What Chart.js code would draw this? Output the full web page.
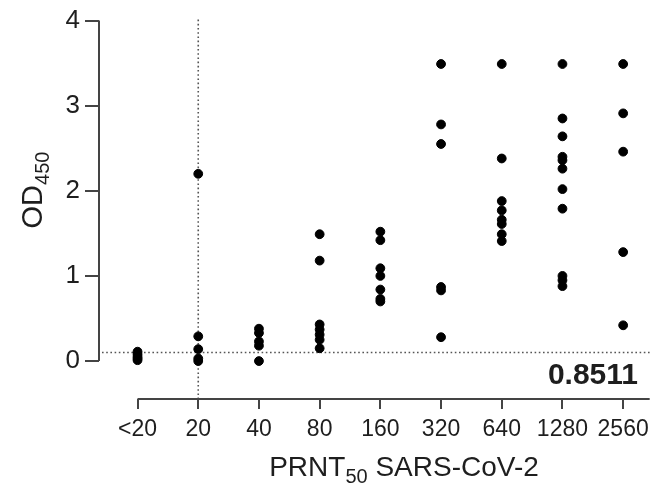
<!DOCTYPE html>
<html>
<head>
<meta charset="utf-8">
<script src="https://cdn.jsdelivr.net/npm/chart.js@4.4.0/dist/chart.umd.min.js"></script>
<style>
    html, body { margin: 0; padding: 0; background: #fff; }
</style>
</head>
<body>
<canvas id="myChart" width="656" height="485"></canvas>
<script>
// PRNT50 titre groups (x categories)
const titres = ["<20", "20", "40", "80", "160", "320", "640", "1280", "2560"];

// OD450 values, one array per titre group
const odLt20 = [0.11, 0.08, 0.05, 0.03, 0.01];
const od20 = [2.20, 0.29, 0.14, 0.03, 0.0];
const od40 = [0.38, 0.33, 0.23, 0.18, 0.0];
const od80 = [1.49, 1.18, 0.43, 0.37, 0.31, 0.25, 0.15];
const od160 = [1.52, 1.42, 1.09, 1.00, 0.84, 0.73, 0.70];
const od320 = [3.49, 2.78, 2.55, 0.87, 0.83, 0.28];
const od640 = [3.49, 2.38, 1.88, 1.77, 1.66, 1.61, 1.49, 1.41];
const od1280 = [3.49, 2.85, 2.64, 2.40, 2.36, 2.26, 2.02, 1.79, 1.00, 0.95, 0.88];
const od2560 = [3.49, 2.91, 2.46, 1.28, 0.42];

const yTicks = [0, 1, 2, 3, 4];
const cutoffOD = 0.1;      // horizontal dotted line
const cutoffTitre = 1;     // vertical dotted line at "20"
const statText = "0.8511";

const groups = [odLt20, od20, od40, od80, od160, od320, od640, od1280, od2560];
const points = [];
groups.forEach((vals, i) => {
    vals.forEach(v => points.push({ x: i, y: v }));
});

const FONT = "'Liberation Sans', Arial, sans-serif";
const AXIS_COLOR = '#444';
const TEXT_COLOR = '#1e1e1e';

// Draw a string made of parts (some of them subscripts)
function drawSubText(ctx, parts, x, y, align) {
    let total = 0;
    parts.forEach(p => {
        ctx.font = p.size + 'px ' + FONT;
        p.w = ctx.measureText(p.text).width;
        total += p.w;
    });
    let cx = align === 'center' ? x - total / 2 : x;
    parts.forEach(p => {
        ctx.font = p.size + 'px ' + FONT;
        ctx.fillText(p.text, cx, y + p.dy);
        cx += p.w;
    });
}

const prismPlugin = {
    id: 'prismPlugin',
    beforeDatasetsDraw(chart) {
        const ctx = chart.ctx;
        const xs = chart.scales.x;
        const ys = chart.scales.y;
        const area = chart.chartArea;
        ctx.save();
        ctx.strokeStyle = '#555';
        ctx.lineWidth = 1.6;
        ctx.setLineDash([1.6, 2.6]);
        // cutoff OD
        const yc = ys.getPixelForValue(cutoffOD);
        ctx.beginPath();
        ctx.moveTo(area.left + 3, yc);
        ctx.lineTo(area.right, yc);
        ctx.stroke();
        // cutoff titre
        const xc = xs.getPixelForValue(cutoffTitre);
        ctx.beginPath();
        ctx.moveTo(xc, area.top - 1);
        ctx.lineTo(xc, area.bottom);
        ctx.stroke();
        ctx.restore();
    },
    afterDraw(chart) {
        const ctx = chart.ctx;
        const xs = chart.scales.x;
        const ys = chart.scales.y;
        const area = chart.chartArea;
        ctx.save();
        // axis lines (Prism style, offset)
        ctx.strokeStyle = AXIS_COLOR;
        ctx.lineWidth = 2;
        ctx.beginPath();
        ctx.moveTo(area.left, ys.getPixelForValue(yTicks[yTicks.length - 1]));
        ctx.lineTo(area.left, ys.getPixelForValue(0));
        ctx.stroke();
        ctx.beginPath();
        ctx.moveTo(xs.getPixelForValue(0), area.bottom);
        ctx.lineTo(area.right, area.bottom);
        ctx.stroke();

        // titles
        ctx.fillStyle = TEXT_COLOR;
        ctx.textBaseline = 'alphabetic';
        ctx.textAlign = 'left';
        drawSubText(ctx, [
            { text: 'PRNT', size: 28, dy: 0 },
            { text: '50', size: 20, dy: 7 },
            { text: ' SARS-CoV-2', size: 28, dy: 0 }
        ], 404, 476, 'center');

        ctx.save();
        ctx.translate(42, 190);
        ctx.rotate(-Math.PI / 2);
        drawSubText(ctx, [
            { text: 'OD', size: 29, dy: 0 },
            { text: '450', size: 20, dy: 7 }
        ], 0, 0, 'center');
        ctx.restore();

        // statistic
        ctx.font = 'bold 30px ' + FONT;
        ctx.textAlign = 'right';
        ctx.fillText(statText, 638, 384);
        ctx.restore();
    }
};

const ctx = document.getElementById('myChart').getContext('2d');
const myChart = new Chart(ctx, {
    type: 'scatter',
    data: {
        datasets: [{
            data: points,
            backgroundColor: '#000',
            borderColor: '#000',
            pointRadius: 4.4,
            pointHoverRadius: 4.4
        }]
    },
    options: {
        responsive: false,
        animation: false,
        devicePixelRatio: 1,
        layout: { padding: { top: 19, right: 0, left: 0, bottom: 0 } },
        plugins: {
            legend: { display: false },
            tooltip: { enabled: false }
        },
        scales: {
            x: {
                type: 'linear',
                min: -0.635,
                max: 8.437,
                afterBuildTicks: scale => {
                    scale.ticks = titres.map((t, i) => ({ value: i }));
                },
                afterFit: scale => { scale.height = 86; },
                ticks: {
                    autoSkip: false,
                    maxRotation: 0,
                    padding: 7,
                    color: TEXT_COLOR,
                    font: { family: FONT, size: 23 },
                    callback: value => titres[value]
                },
                grid: {
                    drawOnChartArea: false,
                    drawTicks: true,
                    tickLength: 10,
                    color: AXIS_COLOR,
                    lineWidth: 2
                },
                border: { display: false }
            },
            y: {
                min: -0.446,
                max: 4,
                afterBuildTicks: scale => {
                    scale.ticks = yTicks.map(v => ({ value: v }));
                },
                afterFit: scale => { scale.width = 99; },
                ticks: {
                    padding: 5,
                    color: TEXT_COLOR,
                    font: { family: FONT, size: 26 }
                },
                grid: {
                    drawOnChartArea: false,
                    drawTicks: true,
                    tickLength: 14,
                    color: AXIS_COLOR,
                    lineWidth: 2
                },
                border: { display: false }
            }
        }
    },
    plugins: [prismPlugin]
});
</script>
</body>
</html>
